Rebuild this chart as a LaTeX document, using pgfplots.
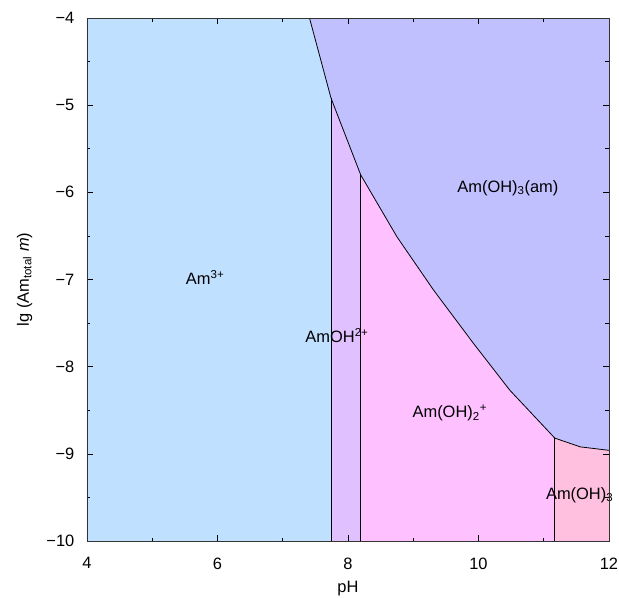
\documentclass[border=0pt]{standalone}
\usepackage{fontspec}
\setmainfont{Liberation Sans}
\usepackage{pgfplots}
\pgfplotsset{compat=1.18}
\definecolor{cAm}{HTML}{C0E0FF}
\definecolor{cAmOH}{HTML}{E0C0FF}
\definecolor{cAmOH2}{HTML}{FFC0FF}
\definecolor{cAmOH3aq}{HTML}{FFC0E0}
\definecolor{cAmOH3am}{HTML}{C0C0FF}
\begin{document}
\begin{tikzpicture}
\fontsize{16.5}{19}\selectfont
\begin{axis}[
  scale only axis, width=522bp, height=523bp,
  xmin=4, xmax=12, ymin=-10, ymax=-4,
  clip mode=individual,
  xtick={4,6,8,10,12}, minor x tick num=1,
  ytick={-10,-9,-8,-7,-6,-5,-4},
  yticklabels={−10,−9,−8,−7,−6,−5,−4},
  minor y tick num=1,
  tick align=inside,
  major tick length=6bp, minor tick length=3.5bp,
  every tick/.style={black, line width=0.6pt},
  axis line style={line width=0.8pt, black!80},
  /pgf/number format/assume math mode=true,
  tick label style={font=\fontsize{16.5}{19}\selectfont},
  yticklabel style={xshift=-7bp},
  xticklabel style={yshift=-11bp},
  label style={font=\fontsize{16.5}{19}\selectfont},
  xlabel={pH},
  ylabel={lg (Am\textsubscript{total} \textit{m})},
  xlabel style={yshift=-1bp},
  ylabel style={yshift=3bp},
  axis on top,
]
% Am(OH)3(am)
\addplot[fill=cAmOH3am, draw=none] coordinates {
 (7.41,-4) (7.74,-4.92) (8.195,-5.80) (8.75,-6.51) (9.31,-7.12) (9.92,-7.73) (10.48,-8.27) (11.17,-8.82) (11.56,-8.92) (12,-8.96) (12,-4) (7.41,-4)};
% Am3+
\addplot[fill=cAm, draw=none] coordinates {
 (4,-10) (4,-4) (7.41,-4) (7.74,-4.92) (7.74,-10) (4,-10)};
% AmOH2+
\addplot[fill=cAmOH, draw=none] coordinates {
 (7.74,-10) (7.74,-4.92) (8.195,-5.80) (8.195,-10) (7.74,-10)};
% Am(OH)2+
\addplot[fill=cAmOH2, draw=none] coordinates {
 (8.195,-10) (8.195,-5.80) (8.75,-6.51) (9.31,-7.12) (9.92,-7.73) (10.48,-8.27) (11.17,-8.82) (11.17,-10) (8.195,-10)};
% Am(OH)3 aq
\addplot[fill=cAmOH3aq, draw=none] coordinates {
 (11.17,-10) (11.17,-8.82) (11.56,-8.92) (12,-8.96) (12,-10) (11.17,-10)};
% boundaries
\addplot[black, line width=0.8pt] coordinates {
 (7.41,-4) (7.74,-4.92) (8.195,-5.80) (8.75,-6.51) (9.31,-7.12) (9.92,-7.73) (10.48,-8.27) (11.17,-8.82) (11.56,-8.92) (12,-8.96)};
\addplot[black, line width=0.8pt] coordinates {(7.74,-4.92) (7.74,-10)};
\addplot[black, line width=0.8pt] coordinates {(8.195,-5.80) (8.195,-10)};
\addplot[black, line width=0.8pt] coordinates {(11.17,-8.82) (11.17,-10)};
% labels
\node at (axis cs:5.81,-6.98) {Am\textsuperscript{3+}};
\node at (axis cs:7.83,-7.64) {AmOH\textsuperscript{2+}};
\node at (axis cs:10.45,-5.95) {Am(OH)\textsubscript{3}(am)};
\node at (axis cs:9.56,-8.53) {Am(OH)\textsubscript{2}\textsuperscript{+}};
\node at (axis cs:11.55,-9.47) {Am(OH)\textsubscript{3}};
\end{axis}
\pgfresetboundingbox
\path (-87bp,-57bp) rectangle (532bp,541bp);
\end{tikzpicture}
\end{document}
